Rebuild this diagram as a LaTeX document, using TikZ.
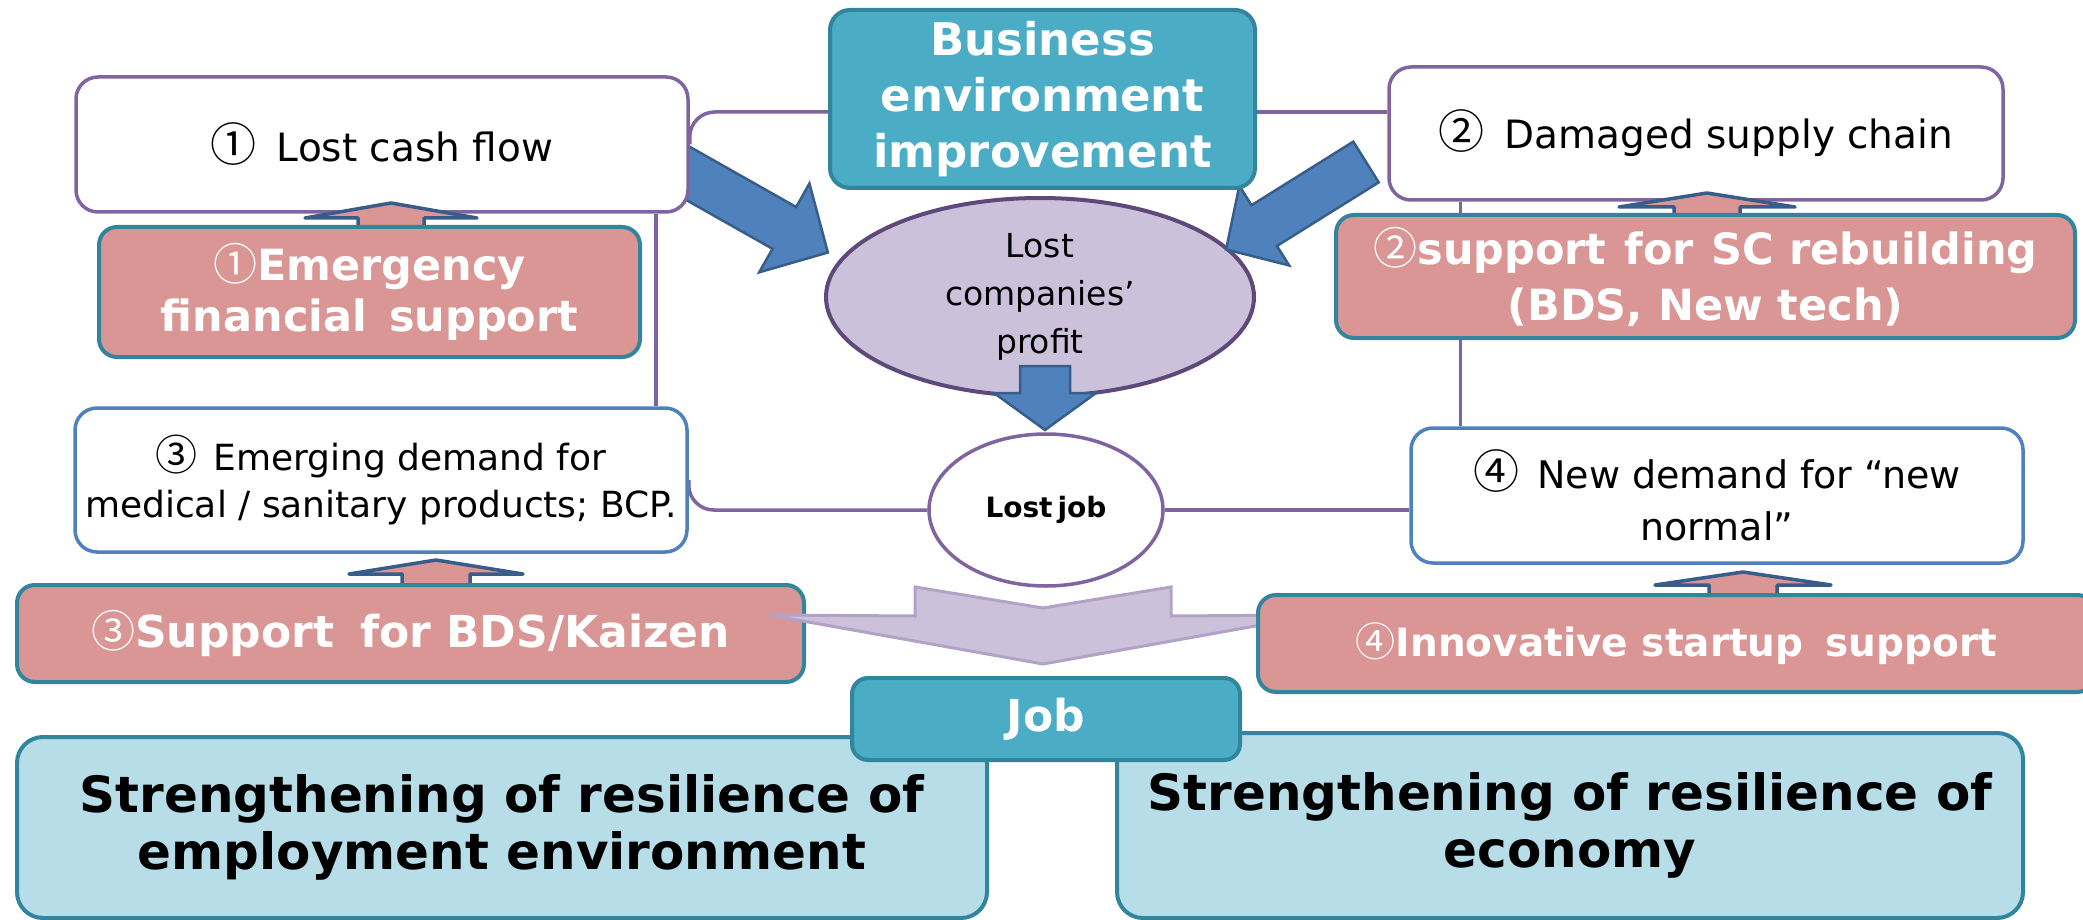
\documentclass[tikz,border=0pt]{standalone}
\usepackage{fontspec}
\setmainfont{DejaVu Sans}
\newfontfamily\cjk{Noto Sans CJK JP}
\usetikzlibrary{shapes.geometric}
\definecolor{purp}{HTML}{8064A2}
\definecolor{dpurp}{HTML}{5F497A}
\definecolor{bluel}{HTML}{4F81BD}
\definecolor{blued}{HTML}{385D8A}
\definecolor{tealf}{HTML}{4BACC6}
\definecolor{tealb}{HTML}{31859C}
\definecolor{pinkf}{HTML}{D99694}
\definecolor{lightb}{HTML}{B7DEE8}
\definecolor{lilac}{HTML}{CCC1DA}
\definecolor{lilacb}{HTML}{B3A2C7}
\newcommand{\fsz}[2]{\fontsize{#1}{#2}\selectfont}
\newcommand{\cnum}[2]{{\cjk\mdseries\fsz{#2}{#2}#1}}
% style, x, y, angle, shaft length, head length, shaft half width, head half width
\newcommand{\blockarrow}[8]{%
  \begin{scope}[shift={(#2,#3)}, rotate=#4]
  \draw[#1] (0,-#7) -- (#5,-#7) -- (#5,-#8) -- ({#5+#6},0) -- (#5,#8) -- (#5,#7) -- (0,#7) -- cycle;
  \end{scope}}
\pgfdeclarelayer{bg}
\pgfsetlayers{bg,main}
\begin{document}
\begin{tikzpicture}[x=1pt,y=-1pt,
  conn/.style={draw=purp, line width=3.5pt},
  wbox/.style={rectangle, rounded corners=22pt, fill=white, line width=3.5pt, inner sep=0pt, align=center, font=\fsz{39}{50}},
  tbox/.style={rectangle, rounded corners=20pt, fill=tealf, draw=tealb, line width=4pt, inner sep=0pt, align=center, text=white},
  pbox/.style={rectangle, rounded corners=18pt, fill=pinkf, draw=tealb, line width=4pt, inner sep=0pt, align=center, text=white},
  bigbox/.style={rectangle, rounded corners=26pt, fill=lightb, draw=tealb, line width=4pt, inner sep=0pt, align=center, font=\bfseries\fsz{50}{57}},
  barr/.style={fill=bluel, draw=blued, line width=2.5pt, line join=miter},
  upar/.style={fill=pinkf, draw=blued, line width=3.5pt, line join=round},
  chev/.style={fill=lilac, draw=lilacb, line width=3pt, line join=miter}
]
\useasboundingbox (0,0) rectangle (2083,920);

% ellipses
\node[ellipse, draw=dpurp, fill=lilac, line width=4pt, minimum width=428pt, minimum height=198pt, inner sep=0pt, align=center, font=\fsz{33}{48}] (prof) at (1040,297) {Lost\\companies’\\profit};
\node[ellipse, draw=purp, fill=white, line width=3.5pt, minimum width=234pt, minimum height=152pt, inner sep=0pt, font=\bfseries\fsz{28}{34}] (lostjob) at (1046,510) {Lost\hspace{5pt}job};

% blue block arrows
\blockarrow{barr}{659}{157}{-29.5}{144}{50}{24}{51}
\blockarrow{barr}{1366}{162}{212}{120}{45}{24}{47}
\blockarrow{barr}{1045}{366}{-90}{27}{37}{25}{51}

% white boxes
\node[wbox, draw=purp, minimum width=612pt, minimum height=135pt] (lcf) at (382,144.5) {\cnum{①}{46}\hspace{20pt}Lost cash flow};
\node[wbox, draw=purp, minimum width=614pt, minimum height=133pt] (dsc) at (1696,133.5) {\cnum{②}{46}\hspace{20pt}Damaged supply chain};
\node[wbox, draw=bluel, minimum width=612pt, minimum height=144pt, font=\fsz{36}{47}] (em) at (381,480) {\cnum{③}{42}\hspace{16pt}Emerging demand for\\medical / sanitary products; BCP.};
\node[wbox, draw=bluel, minimum width=612pt, minimum height=135pt, font=\fsz{38}{52}] (nd) at (1717,495.5) {\cnum{④}{46}\hspace{18pt}New demand for “new\\normal”};

% business box
\node[tbox, minimum width=425pt, minimum height=178pt, font=\bfseries\fsz{45}{56}] (biz) at (1042.5,99) {Business\\environment\\improvement};

% small up arrows
\blockarrow{upar}{391}{230}{90}{12}{15}{33}{86}
\blockarrow{upar}{1707}{217}{90}{10}{14}{33}{88}
\blockarrow{upar}{436}{585}{90}{11}{14}{34}{87}
\blockarrow{upar}{1743}{597}{90}{12}{13}{34}{88}

% pink boxes
\node[pbox, minimum width=541pt, minimum height=130pt, font=\bfseries\fsz{43}{51}] (p1) at (369.5,292) {\cnum{①}{44}Emergency\\financial\hspace{22pt}support};
\node[pbox, minimum width=739pt, minimum height=123pt, font=\bfseries\fsz{43}{56}] (p2) at (1705.5,276.5) {\cnum{②}{44}support\hspace{18pt}for\hspace{18pt}SC rebuilding\\(BDS, New tech)};
\node[pbox, minimum width=787pt, minimum height=97pt, font=\bfseries\fsz{44}{51}] (p3) at (410.5,633.5) {\cnum{③}{44}Support\hspace{26pt}for BDS/Kaizen};

% lilac chevron arrow
\draw[chev] (769,615) -- (915,616) -- (915,587) -- (1043,608) -- (1171,587) -- (1171,616) -- (1317,615) -- (1043,664) -- cycle;

\node[pbox, minimum width=837pt, minimum height=97pt, font=\bfseries\fsz{39}{48}] (p4) at (1676.5,643.5) {\cnum{④}{40}Innovative startup\hspace{22pt}support};

% bottom boxes
\node[bigbox, minimum width=970pt, minimum height=181pt] (bigL) at (502,827.5) {Strengthening of resilience of\\employment environment};
\node[bigbox, minimum width=906pt, minimum height=185pt] (bigR) at (1570,825.5) {Strengthening of resilience of\\economy};
\node[tbox, rounded corners=16pt, minimum width=388pt, minimum height=82pt, font=\bfseries\fsz{44}{50}] (job) at (1046,719) {Job};

% connectors
\begin{pgfonlayer}{bg}
\fill[white] (0,0) rectangle (2083,920);
\draw[conn, rounded corners=25pt] (lcf.east) |- ([yshift=-13pt]biz.west);
\draw[conn] ([yshift=-13pt]biz.east) -- ([yshift=-13pt]biz.east -| dsc.west);
\draw[conn] ([xshift=-34pt]lcf.south east) -- ([xshift=-34pt]lcf.south east |- em.north);
\draw[conn] ([xshift=73pt]dsc.south west) -- ([xshift=73pt]dsc.south west |- nd.north);
\draw[conn, rounded corners=25pt] (em.east) |- (lostjob.west);
\draw[conn] (lostjob.east) -- (lostjob.east -| nd.west);
\end{pgfonlayer}
\end{tikzpicture}
\end{document}
